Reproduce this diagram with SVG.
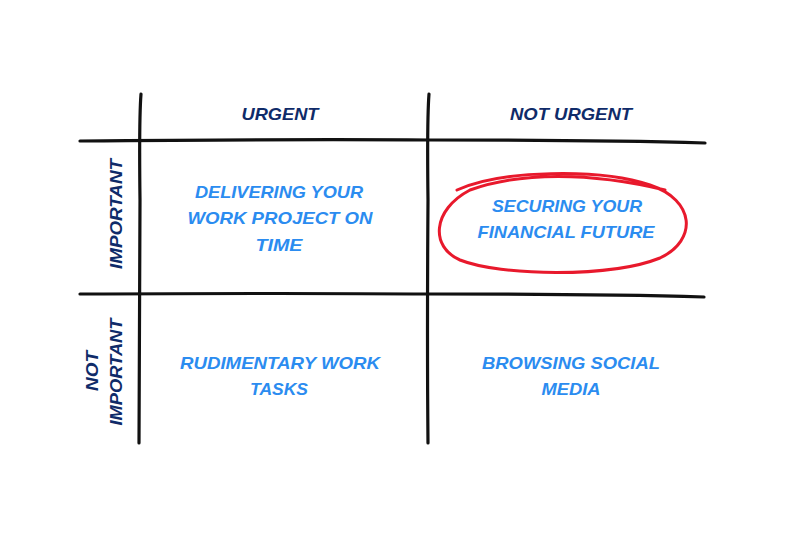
<svg xmlns="http://www.w3.org/2000/svg" width="800" height="533" viewBox="0 0 800 533">
<style>
.grid{fill:none;stroke:#111;stroke-width:3.2;stroke-linecap:round}
.hdr{font-family:"Liberation Sans",Arial,sans-serif;font-weight:bold;font-style:italic;font-size:17px;fill:#0f2b69;text-anchor:middle}
.cell{font-family:"Liberation Sans",Arial,sans-serif;font-weight:bold;font-style:italic;font-size:17px;fill:#2b8cf0;text-anchor:middle}
.circ{fill:none;stroke:#e8192c;stroke-width:3;stroke-linecap:round}
</style>
<rect width="800" height="533" fill="#ffffff"/>
<g id="connectors">
<path class="grid" d="M141,94 Q139,120 140,200 Q139,340 139,443"/>
<path class="grid" d="M429,94 Q427,120 428,200 Q427,340 428,443"/>
<path class="grid" d="M80,141 Q300,139 430,140 Q600,140 705,143"/>
<path class="grid" d="M80,294 Q300,293 430,294 Q600,294 704,297"/>
</g>
<g id="hdr-urgent"><text class="hdr" x="280" y="120" textLength="77" lengthAdjust="spacingAndGlyphs">URGENT</text></g>
<g id="hdr-not-urgent"><text class="hdr" x="571" y="120" textLength="122" lengthAdjust="spacingAndGlyphs">NOT URGENT</text></g>
<g id="row-important"><text class="hdr" transform="translate(122,214) rotate(-90)" x="0" y="0" textLength="110" lengthAdjust="spacingAndGlyphs">IMPORTANT</text></g>
<g id="row-not-important"><text class="hdr" transform="translate(98,371) rotate(-90)" x="0" y="0" textLength="40" lengthAdjust="spacingAndGlyphs">NOT</text><text class="hdr" transform="translate(122,372) rotate(-90)" x="0" y="0" textLength="107" lengthAdjust="spacingAndGlyphs">IMPORTANT</text></g>
<g id="q1">
<text class="cell" x="279" y="198" textLength="168" lengthAdjust="spacingAndGlyphs">DELIVERING YOUR</text>
<text class="cell" x="280" y="224" textLength="185" lengthAdjust="spacingAndGlyphs">WORK PROJECT ON</text>
<text class="cell" x="279" y="251" textLength="47" lengthAdjust="spacingAndGlyphs">TIME</text>
</g>
<g id="q2">
<path class="circ" d="M457,190 C500,170 600,168 650,185 C695,200 698,240 660,258 C610,278 500,276 460,260 C430,247 432,210 470,190 C520,172 590,172 665,190"/>
<text class="cell" x="567" y="212" textLength="150" lengthAdjust="spacingAndGlyphs">SECURING YOUR</text>
<text class="cell" x="566" y="238" textLength="177" lengthAdjust="spacingAndGlyphs">FINANCIAL FUTURE</text>
</g>
<g id="q3">
<text class="cell" x="280" y="369" textLength="200" lengthAdjust="spacingAndGlyphs">RUDIMENTARY WORK</text>
<text class="cell" x="279" y="395" textLength="58" lengthAdjust="spacingAndGlyphs">TASKS</text>
</g>
<g id="q4">
<text class="cell" x="571" y="369" textLength="178" lengthAdjust="spacingAndGlyphs">BROWSING SOCIAL</text>
<text class="cell" x="571" y="395" textLength="59" lengthAdjust="spacingAndGlyphs">MEDIA</text>
</g>
</svg>
